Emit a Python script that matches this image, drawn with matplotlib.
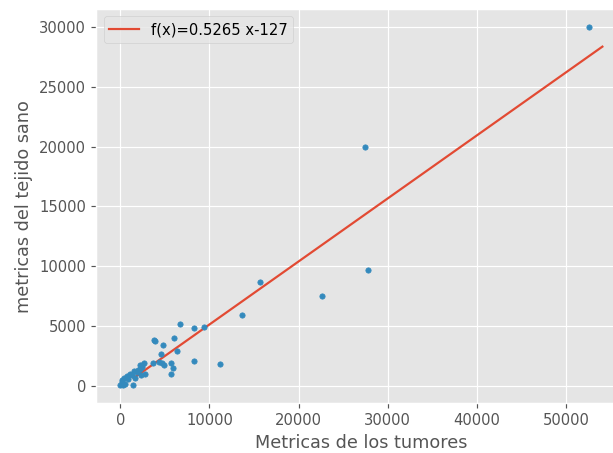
import matplotlib
matplotlib.use("Agg")
import matplotlib.pyplot as plt
import numpy as np

plt.style.use("ggplot")

# tumour metrics (x) vs healthy tissue metrics (y)
tumores = [52600, 27490, 27820, 22660, 15620, 13690, 9360, 8280, 6740,
           3750, 3860, 5990, 4790, 6360, 4570, 3630, 4310, 4680, 4870,
           5730, 5910, 5730, 8310, 11160, 2620, 2250, 2430, 2170, 2810,
           2320, 1870, 1500, 1120, 750, 1610, 370, 190, 1420, 0, 300, 560,
           150, 900, 1300, 2000, 2450]
sano = [30000, 19930, 9690, 7540, 8710, 5940, 4930, 4860, 5190,
        3840, 3750, 4030, 3420, 2940, 2690, 1960, 2020, 1930, 1740,
        1960, 1510, 980, 2070, 1870, 1930, 1740, 1600, 1450, 980,
        900, 1180, 1260, 1030, 840, 700, 670, 480, 110, 110, 60, 190,
        300, 600, 900, 1350, 1750]

pendiente = 0.5265
ordenada = -127
x_recta = [1500, 54100]

dpi = 106
fig = plt.figure(figsize=(613 / dpi, 453 / dpi), dpi=dpi)
# the original is cut off on the right, so the axes run past the figure edge
ax = fig.add_axes([0.157, 0.110, 0.865, 0.870])
ax.scatter(tumores, sano, s=13, color="#348ABD", zorder=3)
xr = np.array(x_recta)
ax.plot(xr, pendiente * xr + ordenada, color="#E24A33",
        label="f(x)=0.5265 x-127", zorder=2)
ax.set_xlabel("Metricas de los tumores", fontsize=12)
ax.set_ylabel("metricas del tejido sano", fontsize=12)
ax.legend(loc="upper left", fontsize=10)
fig.savefig("out.png", dpi=dpi)
